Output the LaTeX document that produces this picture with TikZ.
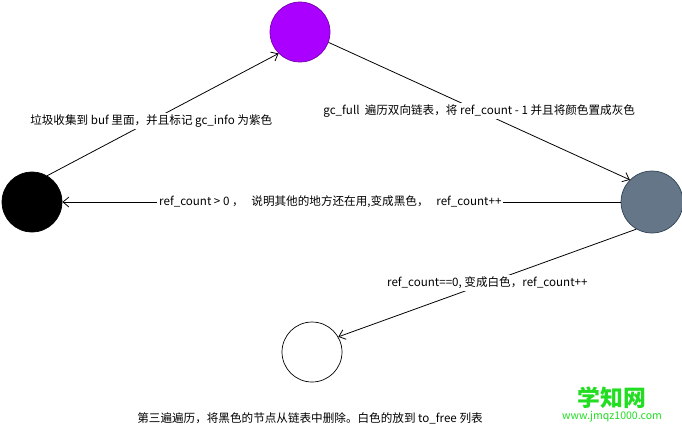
\documentclass[tikz,border=0pt]{standalone}
\usepackage{fontspec}
\setmainfont{Noto Sans CJK SC}
\usetikzlibrary{arrows.meta}
\definecolor{gcpurple}{HTML}{AA00FF}
\definecolor{gcgray}{HTML}{647687}
\definecolor{gcgrayline}{HTML}{314354}
\definecolor{wmgreen}{HTML}{22DD22}
\tikzset{
  state/.style={shape=circle,draw=black,minimum size=1.2cm,inner sep=0pt},
  trans/.style={-{Straight Barb[length=1.2mm,width=2mm]},line width=0.45pt},
  lbl/.style={fill=white,inner sep=1pt,font=\fontsize{6.6}{8}\selectfont}
}
\begin{document}
\begin{tikzpicture}[x=0.02cm,y=-0.02cm]
            \useasboundingbox (0,0) rectangle (682,430);
            \node[state,fill=gcpurple,draw=gcpurple!70!black] (purple) at (300,32) {};
            \node[state,fill=black] (black) at (32,202) {};
            \node[state,fill=gcgray,draw=gcgrayline,minimum size=1.24cm] (gray) at (652,202) {};
            \node[state,fill=white] (white) at (312,352) {};

            %transitions
            \draw[trans] (black.60) -- node[lbl,pos=0.45] {垃圾收集到 buf 里面，并且标记 gc\_info 为紫色} (purple.225);
            \draw[trans] (purple.-20) -- node[lbl,pos=0.5] {gc\_full\ \ 遍历双向链表，将 ref\_count - 1 并且将颜色置成灰色} (gray.135);
            \draw[trans] (gray) -- node[lbl,pos=0.52] {ref\_count > 0 ，\ \ \ 说明其他的地方还在用,变成黑色，\ \ \ ref\_count++} (black);
            \draw[trans] (gray.-120) -- node[lbl,pos=0.5] {ref\_count==0, 变成白色，ref\_count++} (white.30);

            \node[font=\fontsize{6.6}{8}\selectfont] (note) at (310,418) {第三遍遍历，将黑色的节点从链表中删除。白色的放到 to\_free 列表};
            \node[font=\fontsize{13}{14}\bfseries\selectfont,text=wmgreen] (wm) at (612,398) {学知网};
            \node[font=\fontsize{6}{7}\selectfont,text=wmgreen,below=-3pt] (url) at (612,410) {www.jmqz1000.com};
        \end{tikzpicture}
\end{document}
